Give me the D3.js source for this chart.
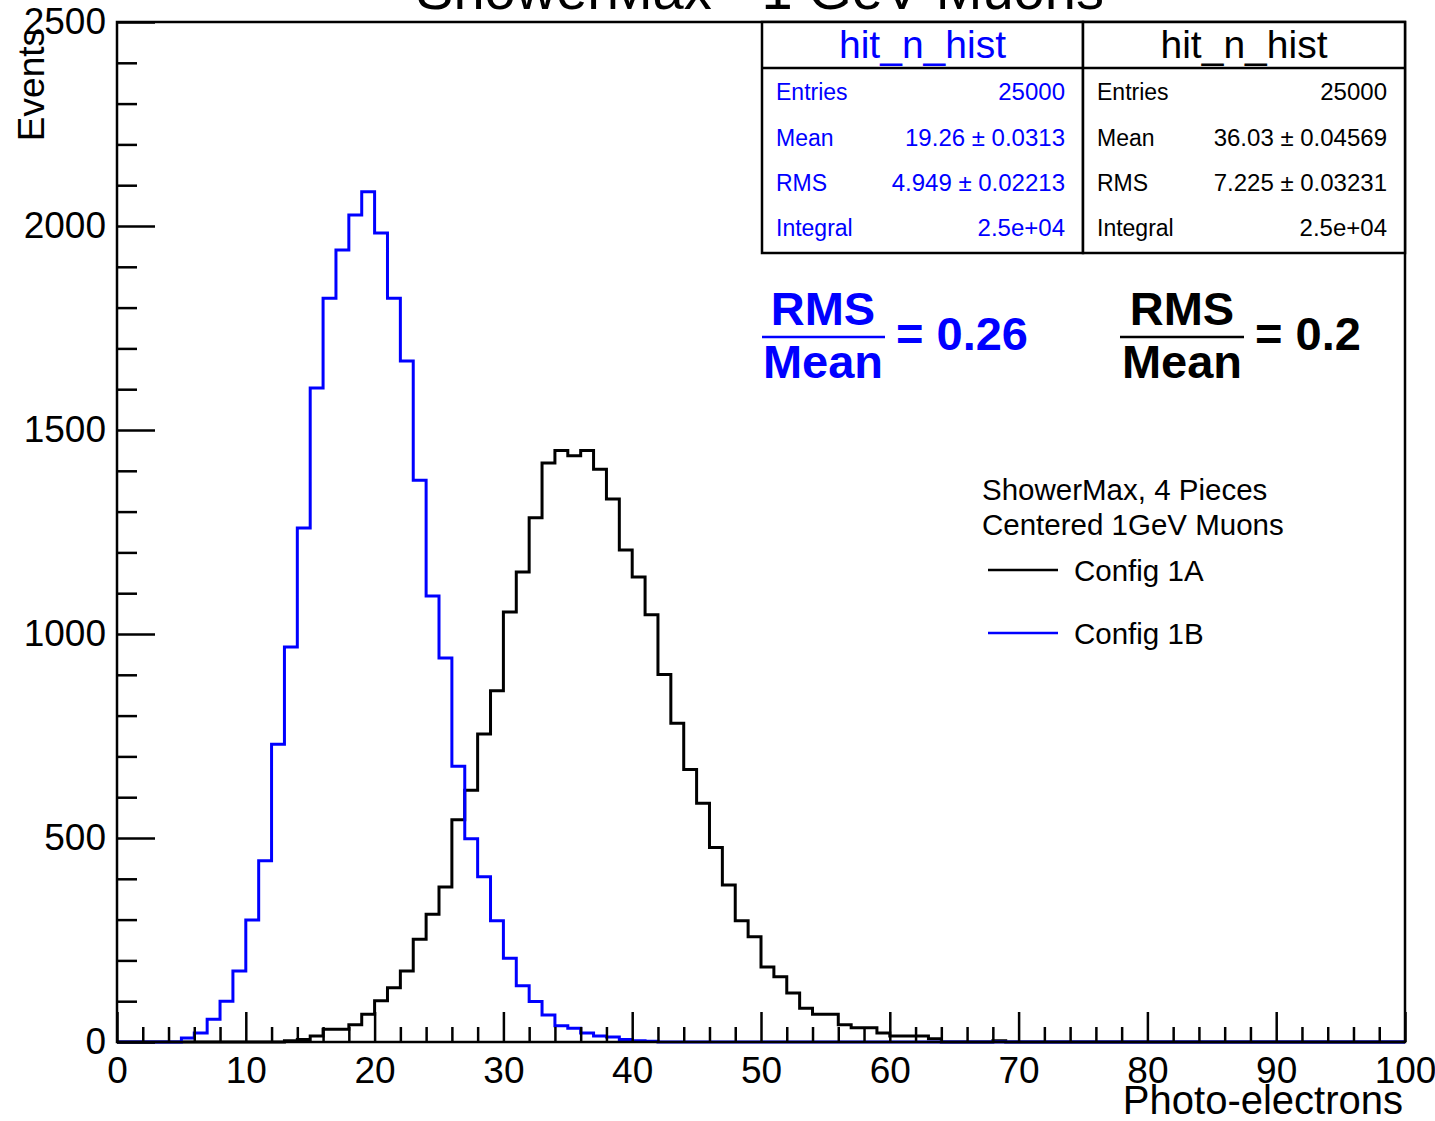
<!DOCTYPE html>
<html><head><meta charset="utf-8">
<script src="https://cdn.jsdelivr.net/npm/d3@7"></script>
<style>
html,body{margin:0;padding:0;background:#fff;}
svg{display:block;font-family:"Liberation Sans",Arial,Helvetica,sans-serif;}
</style></head>
<body>
<svg id="c" width="1435" height="1121"></svg>
<script>
// ---- data ----
const binEdgesMin = 0, binEdgesMax = 100;          // 100 bins of width 1
const config1B = [ // blue, bins 0..99
  0,0,0,0,0,10,22,56,100,174,
  299,444,730,968,1260,1603,1823,1941,2027,2084,
  1983,1823,1669,1377,1093,941,676,498,405,297,
  205,138,99,66,40,34,22,15,12,6,
  3,2,0,0,0,0,0,0,0,0,
  0,0,0,0,0,0,0,0,0,0,
  0,0,0,0,0,0,0,0,0,0,
  0,0,0,0,0,0,0,0,0,0,
  0,0,0,0,0,0,0,0,0,0,
  0,0,0,0,0,0,0,0,0,0];
const config1A = [ // black, bins 0..99
  0,0,0,0,0,0,0,0,0,0,
  0,0,0,3,6,15,31,31,42,68,
  101,133,174,252,313,380,545,617,755,861,
  1054,1152,1285,1419,1450,1437,1450,1404,1331,1206,
  1140,1047,901,781,668,585,477,385,297,258,
  184,160,120,83,68,68,42,35,35,22,
  15,15,15,8,0,0,0,0,3,0,
  0,0,0,0,0,0,0,0,0,0,
  0,0,0,0,0,0,0,0,0,0,
  0,0,0,0,0,0,0,0,0,0];
const xTicks = [0,10,20,30,40,50,60,70,80,90,100];
const yTicks = [0,500,1000,1500,2000,2500];
const statsLabels = ["Entries","Mean","RMS","Integral"];
const statsBlue = ["25000","19.26 \u00b1 0.0313","4.949 \u00b1 0.02213","2.5e+04"];
const statsBlack = ["25000","36.03 \u00b1 0.04569","7.225 \u00b1 0.03231","2.5e+04"];
const legendLabels = ["Config 1A","Config 1B"];
const legendColors = ["#000000","#0000ff"];

// ---- layout ----
const svg = d3.select("#c");
const L = 117, R = 1405, T = 22, B = 1042;
const x = d3.scaleLinear([binEdgesMin, binEdgesMax], [L, R]);
const y = d3.scaleLinear([0, 2500], [B, T]);

// title (cut at top)
svg.append("text").attr("x", 760).attr("y", 9).attr("text-anchor","middle")
  .attr("font-size", 56).text("ShowerMax - 1 GeV Muons");

// clip
svg.append("clipPath").attr("id","clip").append("rect")
  .attr("x", L).attr("y", T).attr("width", R-L).attr("height", B-T+2);

function histPath(vals){
  let p = d3.path();
  p.moveTo(x(0), y(vals[0]));
  for (let i=0;i<vals.length;i++){
    p.lineTo(x(i+1), y(vals[i]));
    if (i+1 < vals.length) p.lineTo(x(i+1), y(vals[i+1]));
  }
  return p.toString();
}
const g = svg.append("g").attr("clip-path","url(#clip)");
g.append("path").attr("d", histPath(config1A)).attr("fill","none")
  .attr("stroke","#000").attr("stroke-width",3);
g.append("path").attr("d", histPath(config1B)).attr("fill","none")
  .attr("stroke","#0000ff").attr("stroke-width",3);

// axes
const fs = 37;
const fmt = d3.format("d");
const yAxis = d3.axisLeft(y).tickValues(yTicks).tickFormat(fmt).tickSizeInner(-38).tickSizeOuter(0).tickPadding(11);
const ya = svg.append("g").attr("transform",`translate(${L},0)`).call(yAxis);
const yMinor = d3.axisLeft(y).tickValues(d3.range(0,2501,100).filter(v=>v%500)).tickSize(-20).tickFormat("");
const ym = svg.append("g").attr("transform",`translate(${L},0)`).call(yMinor);
const xAxis = d3.axisBottom(x).tickValues(xTicks).tickFormat(fmt).tickSizeInner(-30).tickSizeOuter(0).tickPadding(15);
const xa = svg.append("g").attr("transform",`translate(0,${B})`).call(xAxis);
const xMinor = d3.axisBottom(x).tickValues(d3.range(0,101,2).filter(v=>v%10)).tickSize(-15).tickFormat("");
const xm = svg.append("g").attr("transform",`translate(0,${B})`).call(xMinor);
[ya,ym,xa,xm].forEach(a=>{
  a.select(".domain").remove();
  a.selectAll("line").attr("stroke","#000").attr("stroke-width",2.5);
  a.selectAll("text").attr("font-size",fs).attr("font-family","Liberation Sans, Arial, sans-serif").attr("fill","#000");
});

// frame
svg.append("rect").attr("x",L).attr("y",T).attr("width",R-L).attr("height",B-T)
  .attr("fill","none").attr("stroke","#000").attr("stroke-width",2.5);

// axis titles
svg.append("text").attr("transform",`translate(44,${T+6}) rotate(-90)`).attr("text-anchor","end")
  .attr("font-size",37).text("Events");
svg.append("text").attr("x",1403).attr("y",1114).attr("text-anchor","end")
  .attr("font-size",40).text("Photo-electrons");

// stats boxes
function statsBox(x0, x1, color, vals){
  const sg = svg.append("g");
  sg.append("rect").attr("x",x0).attr("y",T).attr("width",x1-x0).attr("height",253-T)
    .attr("fill","#fff").attr("stroke","#000").attr("stroke-width",2.5);
  sg.append("line").attr("x1",x0).attr("x2",x1).attr("y1",68).attr("y2",68)
    .attr("stroke","#000").attr("stroke-width",2.5);
  sg.append("text").attr("x",(x0+x1)/2).attr("y",58).attr("text-anchor","middle")
    .attr("font-size",39).attr("fill",color).text("hit_n_hist");
  const rows=[100,146,191,236];
  statsLabels.forEach((lab,i)=>{
    sg.append("text").attr("x",x0+14).attr("y",rows[i]).attr("font-size",23)
      .attr("fill",color).text(lab);
    sg.append("text").attr("x",x1-18).attr("y",rows[i]).attr("font-size",24)
      .attr("text-anchor","end").attr("fill",color).text(vals[i]);
  });
}
statsBox(762, 1083, "#0000ff", statsBlue);
statsBox(1083, 1405, "#000000", statsBlack);

// RMS/Mean fractions
function frac(cx, lineX0, lineX1, eqX, value, color){
  const fg = svg.append("g").attr("fill",color).attr("font-weight","bold").attr("font-size",47);
  fg.append("text").attr("x",cx).attr("y",325).attr("text-anchor","middle").text("RMS");
  fg.append("line").attr("x1",lineX0).attr("x2",lineX1).attr("y1",337).attr("y2",337)
    .attr("stroke",color).attr("stroke-width",2.5);
  fg.append("text").attr("x",cx).attr("y",378).attr("text-anchor","middle").text("Mean");
  fg.append("text").attr("x",eqX).attr("y",350).text("= " + value);
}
frac(823, 762, 885, 896, "0.26", "#0000ff");
frac(1182, 1120, 1244, 1255, "0.2", "#000000");

// legend
const lg = svg.append("g").attr("font-size",29.5);
lg.append("text").attr("x",982).attr("y",500).text("ShowerMax, 4 Pieces");
lg.append("text").attr("x",982).attr("y",535).text("Centered 1GeV Muons");
const ly = [570, 633];
legendLabels.forEach((lab,i)=>{
  lg.append("line").attr("x1",988).attr("x2",1058).attr("y1",ly[i]).attr("y2",ly[i])
    .attr("stroke",legendColors[i]).attr("stroke-width",2.5);
  lg.append("text").attr("x",1074).attr("y",ly[i]+11).text(lab);
});
</script>
</body></html>
